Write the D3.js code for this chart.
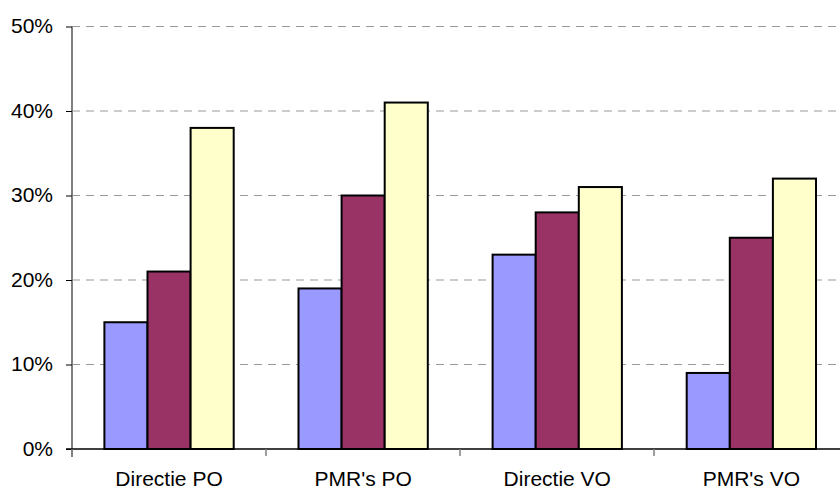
<!DOCTYPE html>
<html>
<head>
<meta charset="UTF-8">
<style>
  body { margin: 0; background: #fff; }
  svg { display: block; font-family: "Liberation Sans", Arial, sans-serif; }
</style>
</head>
<body>
<script src="https://cdn.jsdelivr.net/npm/d3@7"></script>
<script>
var categories = ["Directie PO", "PMR's PO", "Directie VO", "PMR's VO"]
var seriesNames = ["s1", "s2", "s3"]
var seriesA = [15, 19, 23, 9]
var seriesB = [21, 30, 28, 25]
var seriesC = [38, 41, 31, 32]
var yTicks = [0, 10, 20, 30, 40, 50]

var width = 840, height = 491
var plotLeft = 72, plotBottom = 449, plotTop = 26.5
var colors = ["#9999ff", "#993366", "#ffffcc"]
var fontSize = 21

var svg = d3.select('body').append('svg').attr('width', width).attr('height', height)

var x = d3.scaleBand().domain(categories).range([plotLeft, plotLeft + 4 * 194.1])
var inner = d3.scaleBand().domain(seriesNames).range([32.4, 194.1 - 32.4])
var y = d3.scaleLinear().domain([0, 50]).range([plotBottom, plotTop])

// gridlines
svg.append('g').selectAll('line').data(yTicks.filter(function(d){ return d > 0 }))
  .enter().append('line')
  .attr('x1', plotLeft).attr('x2', width)
  .attr('y1', function(d){ return y(d) }).attr('y2', function(d){ return y(d) })
  .attr('stroke', '#999').attr('stroke-width', 1).attr('stroke-dasharray', '8,6')

// y axis
var yAxis = svg.append('g').attr('transform', 'translate(' + plotLeft + ',0)')
  .call(d3.axisLeft(y).tickValues(yTicks).tickSize(6).tickPadding(13).tickFormat(function(d){ return d + '%' }))
yAxis.select('.domain').attr('stroke', '#808080').attr('stroke-width', 2).attr('d', 'M0,' + plotTop + 'V' + (plotBottom + 8))
yAxis.selectAll('.tick line').attr('stroke', '#000')
yAxis.selectAll('text').attr('font-size', fontSize).attr('fill', '#000').attr('dy', '0.3em')
  .attr('font-family', '"Liberation Sans", Arial, sans-serif')

// bars
var data = categories.map(function(c, i){ return { cat: c, vals: [seriesA[i], seriesB[i], seriesC[i]] } })
var groups = svg.append('g').selectAll('g').data(data).enter().append('g')
  .attr('transform', function(d){ return 'translate(' + x(d.cat) + ',0)' })
groups.selectAll('rect').data(function(d){ return d.vals.map(function(v, j){ return { v: v, s: seriesNames[j], j: j } }) })
  .enter().append('rect')
  .attr('x', function(d){ return inner(d.s) })
  .attr('width', inner.bandwidth())
  .attr('y', function(d){ return y(d.v) })
  .attr('height', function(d){ return plotBottom - y(d.v) })
  .attr('fill', function(d){ return colors[d.j] })
  .attr('stroke', '#000').attr('stroke-width', 2)

// x axis
svg.append('line').attr('x1', plotLeft - 6).attr('x2', width).attr('y1', plotBottom).attr('y2', plotBottom)
  .attr('stroke', '#000').attr('stroke-width', 1.5)
svg.append('g').selectAll('line').data(categories).enter().append('line')
  .attr('x1', function(d){ return Math.round(x(d)) }).attr('x2', function(d){ return Math.round(x(d)) })
  .attr('y1', plotBottom).attr('y2', plotBottom + 7)
  .attr('stroke', '#808080').attr('stroke-width', 1.5)
svg.append('g').selectAll('text').data(categories).enter().append('text')
  .attr('x', function(d){ return x(d) + x.bandwidth() / 2 })
  .attr('y', 486)
  .attr('text-anchor', 'middle').attr('font-size', fontSize).attr('fill', '#000')
  .text(function(d){ return d })
</script>
</body>
</html>
